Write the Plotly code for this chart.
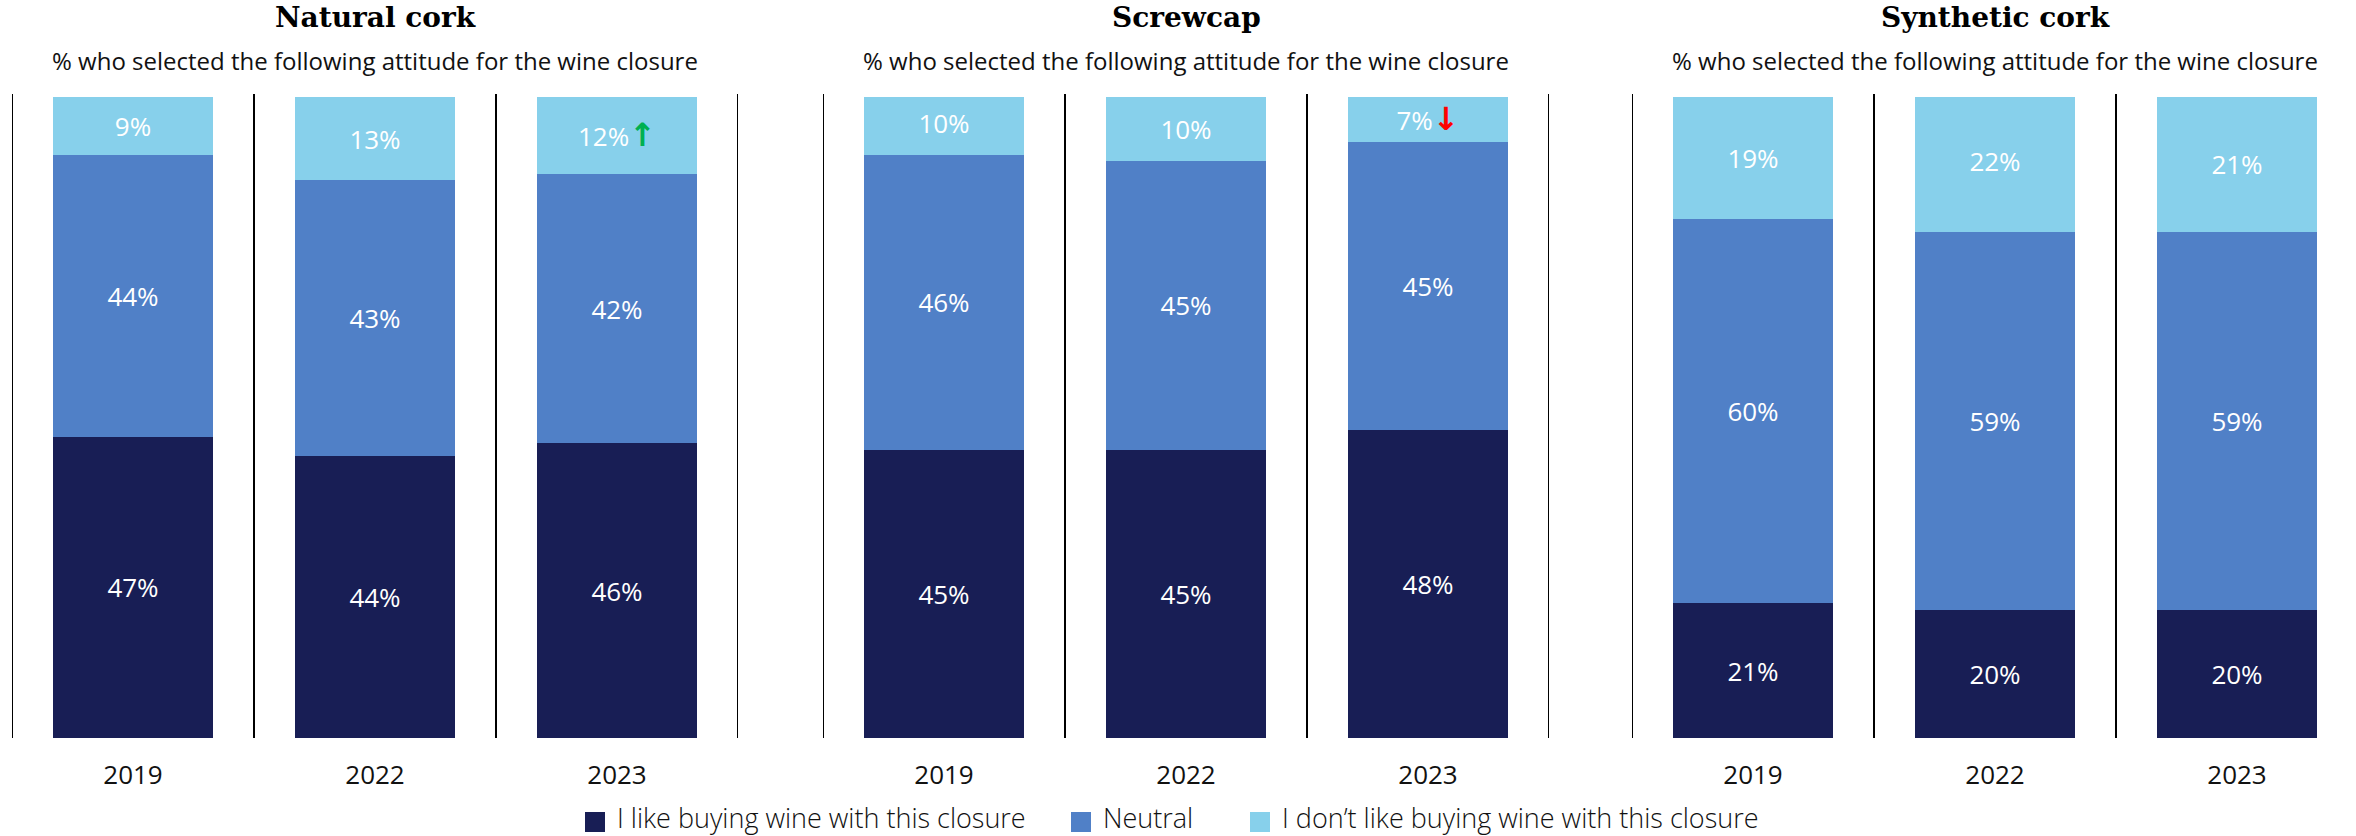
import plotly.graph_objects as go

W, H = 2356, 836

panels = ["Natural cork", "Screwcap", "Synthetic cork"]
years = ["2019", "2022", "2023"]
subtitle = "% who selected the following attitude for the wine closure"

like_pct = [[47, 44, 46], [45, 45, 48], [21, 20, 20]]
neutral_pct = [[44, 43, 42], [46, 45, 45], [60, 59, 59]]
dislike_pct = [[9, 13, 12], [10, 10, 7], [19, 22, 21]]
dislike_trend = [["", "", "up"], ["", "", "down"], ["", "", ""]]

series_names = ["I like buying wine with this closure", "Neutral",
                "I don\u2019t like buying wine with this closure"]
colors = ["#181e55", "#5080c7", "#87d0eb"]

# layout geometry (pixels)
panel_left = [12, 823, 1632]
slot_w = 242
plot_top, plot_bot = 97, 738

def px_x(v):
    return v / W

def px_y(v):
    return 1 - v / H

fig = go.Figure()

arrow_style = "font-family:DejaVu Sans;font-weight:bold;font-size:32px;"
arrow_html = {"up": f"<span style='color:#00b050;{arrow_style}'>\u2191</span>",
              "down": f"<span style='color:#ff0000;{arrow_style}'>\u2193</span>",
              "": ""}

for p in range(3):
    ax = "" if p == 0 else str(p + 1)
    vals = [like_pct[p], neutral_pct[p], dislike_pct[p]]
    for s in range(3):
        if s == 2:
            txt = [f"{v}%" + arrow_html[t] for v, t in zip(vals[s], dislike_trend[p])]
        else:
            txt = [f"{v}%" for v in vals[s]]
        fig.add_trace(go.Bar(
            x=years, y=vals[s], name=series_names[s], marker_color=colors[s],
            marker_line_width=0, width=0.66, text=txt, textposition="inside",
            insidetextanchor="middle", textangle=0,
            textfont=dict(family="Open Sans", size=26, color="white"),
            xaxis="x" + ax, yaxis="y" + ax, showlegend=False, hoverinfo="skip"))
    left = panel_left[p]
    right = left + 3 * slot_w
    rng_end = 2.5
    if right > W:
        rng_end = 2.5 - (right - W) / slot_w
        right = W
    fig.update_layout(**{
        "xaxis" + ax: dict(domain=[px_x(left), px_x(right)], range=[-0.5, rng_end],
                           type="category", showgrid=False, zeroline=False, showline=False,
                           ticks="", ticklabelstandoff=19,
                           tickfont=dict(family="Open Sans", size=26, color="#111111"),
                           anchor="y" + ax, fixedrange=True),
        "yaxis" + ax: dict(domain=[px_y(plot_bot), px_y(plot_top)], range=[0, 100],
                           showgrid=False, zeroline=False, showline=False,
                           showticklabels=False, anchor="x" + ax, fixedrange=True),
    })
    # separators
    for k in range(4):
        xv = -0.5 + k
        if xv > rng_end:
            continue
        fig.add_shape(type="line", xref="x" + ax, yref="paper", x0=xv, x1=xv,
                      y0=px_y(plot_bot), y1=px_y(94), line=dict(color="#000000", width=2))
    cx = (left + left + 3 * slot_w) / 2
    fig.add_annotation(text="<b>" + panels[p] + "</b>", xref="paper", yref="paper",
                       x=px_x(cx), y=px_y(18), xanchor="center", yanchor="middle",
                       showarrow=False,
                       font=dict(family="DejaVu Serif", size=28, color="#000000"))
    fig.add_annotation(text=subtitle, xref="paper", yref="paper",
                       x=px_x(cx), y=px_y(60), xanchor="center", yanchor="middle",
                       showarrow=False,
                       font=dict(family="Open Sans", size=24, color="#111111"))

# manual legend
legend_sq_x = [585, 1071, 1250]
legend_sq_y = 822
legend_txt_y = 817
for i in range(3):
    x0 = legend_sq_x[i]
    fig.add_shape(type="rect", xref="paper", yref="paper",
                  x0=px_x(x0), x1=px_x(x0 + 20),
                  y0=px_y(legend_sq_y + 10), y1=px_y(legend_sq_y - 10),
                  fillcolor=colors[i], line_width=0)
    fig.add_annotation(text=series_names[i], xref="paper", yref="paper",
                       x=px_x(x0 + 30), y=px_y(legend_txt_y), xanchor="left", yanchor="middle",
                       showarrow=False,
                       font=dict(family="Open Sans", size=27, color="#111111", weight=300))

fig.update_layout(width=W, height=H, margin=dict(l=0, r=0, t=0, b=0),
                  barmode="stack", bargap=0.34, paper_bgcolor="white",
                  plot_bgcolor="white", showlegend=False,
                  uniformtext=dict(mode=False))

fig.write_html("out.html")
